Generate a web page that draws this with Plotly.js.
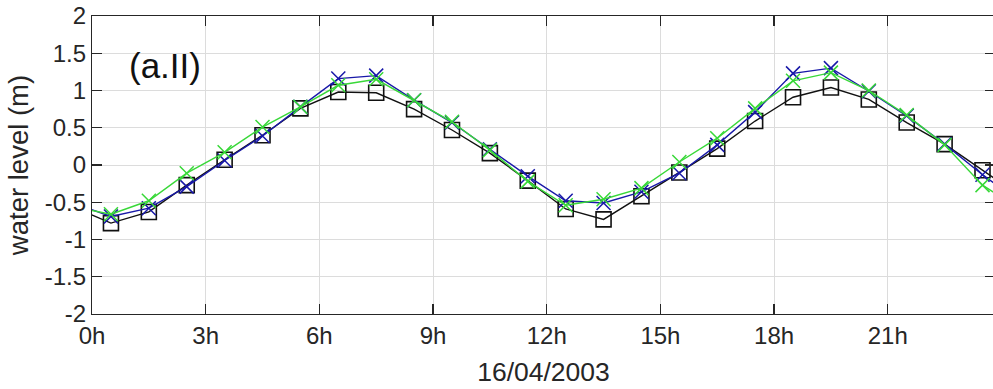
<!DOCTYPE html>
<html>
<head>
<meta charset="utf-8">
<script src="https://cdn.plot.ly/plotly-3.0.1.min.js"></script>
<style>
  html, body { margin: 0; padding: 0; background: #ffffff; overflow: hidden; }
  #chart { width: 1000px; height: 389px; }
</style>
</head>
<body>
<div id="chart"></div>
<script>
// Hourly water level samples (hours after midnight, 16/04/2003)
const hours = [-0.5, 0.5, 1.5, 2.5, 3.5, 4.5, 5.5, 6.5, 7.5, 8.5, 9.5, 10.5, 11.5,
               12.5, 13.5, 14.5, 15.5, 16.5, 17.5, 18.5, 19.5, 20.5, 21.5, 22.5, 23.5, 24.5];

// Observed (black squares)
const observed = [-0.56, -0.78, -0.63, -0.27, 0.07, 0.40, 0.76, 0.98, 0.97, 0.75, 0.47, 0.16, -0.21,
                  -0.59, -0.73, -0.42, -0.10, 0.22, 0.59, 0.91, 1.04, 0.88, 0.57, 0.28, -0.07, -0.42];
// Model run 1 (blue crosses)
const modelBlue = [-0.51, -0.69, -0.58, -0.29, 0.06, 0.39, 0.78, 1.16, 1.20, 0.87, 0.57, 0.21, -0.15,
                   -0.48, -0.51, -0.36, -0.11, 0.27, 0.71, 1.23, 1.30, 0.99, 0.66, 0.28, -0.13, -0.50];
// Model run 2 (green crosses)
const modelGreen = [-0.56, -0.66, -0.48, -0.11, 0.17, 0.51, 0.78, 1.07, 1.15, 0.87, 0.58, 0.20, -0.22,
                    -0.54, -0.46, -0.31, 0.04, 0.36, 0.76, 1.13, 1.24, 1.00, 0.67, 0.27, -0.27, -0.60];

const xTickVals = [0, 3, 6, 9, 12, 15, 18, 21];
const xTickText = ['0h', '3h', '6h', '9h', '12h', '15h', '18h', '21h'];
const yTickVals = [-2, -1.5, -1, -0.5, 0, 0.5, 1, 1.5, 2];
const yTickText = ['-2', '-1.5', '-1', '-0.5', '0', '0.5', '1', '1.5', '2'];

const FONT = '"Liberation Sans", Arial, Helvetica, sans-serif';
const AXIS_COLOR = '#262626';

const traces = [
  {
    x: hours, y: observed, type: 'scatter', mode: 'lines+markers',
    line: { color: '#111111', width: 1.4 },
    marker: { symbol: 'square-open', size: 15, color: '#111111', line: { width: 1.6, color: '#111111' } }
  },
  {
    x: hours, y: modelBlue, type: 'scatter', mode: 'lines+markers',
    line: { color: '#1818a8', width: 1.4 },
    marker: { symbol: 'x-thin-open', size: 14, color: '#1818a8', line: { width: 1.5, color: '#1818a8' } }
  },
  {
    x: hours, y: modelGreen, type: 'scatter', mode: 'lines+markers',
    line: { color: '#38d838', width: 1.4 },
    marker: { symbol: 'x-thin-open', size: 14, color: '#38d838', line: { width: 1.5, color: '#38d838' } }
  }
];

const layout = {
  width: 1000, height: 389,
  margin: { l: 92, r: 5, t: 16, b: 75 },
  paper_bgcolor: '#ffffff', plot_bgcolor: '#ffffff',
  showlegend: false,
  font: { family: FONT, size: 24, color: AXIS_COLOR },
  xaxis: {
    range: [0, 23.83],
    tickvals: xTickVals, ticktext: xTickText,
    ticks: 'inside', ticklen: 10, tickwidth: 1.2, tickcolor: AXIS_COLOR,
    showline: true, linecolor: AXIS_COLOR, linewidth: 1.2, mirror: 'ticks',
    showgrid: true, gridcolor: '#dcdcdc', gridwidth: 1,
    zeroline: false,
    tickfont: { family: FONT, size: 24, color: AXIS_COLOR },
    title: { text: '16/04/2003', font: { family: FONT, size: 26.5, color: AXIS_COLOR }, standoff: 14 }
  },
  yaxis: {
    range: [-2, 2],
    tickvals: yTickVals, ticktext: yTickText,
    ticks: 'inside', ticklen: 10, tickwidth: 1.2, tickcolor: AXIS_COLOR,
    showline: true, linecolor: AXIS_COLOR, linewidth: 1.2, mirror: 'ticks',
    showgrid: true, gridcolor: '#dcdcdc', gridwidth: 1,
    zeroline: false,
    tickfont: { family: FONT, size: 24, color: AXIS_COLOR },
    title: { text: 'water level (m)', font: { family: FONT, size: 27.5, color: AXIS_COLOR }, standoff: 8 }
  },
  annotations: [
    {
      x: 0.92, y: 1.33, xref: 'x', yref: 'y', xanchor: 'left', yanchor: 'middle',
      text: '(a.II)', showarrow: false,
      font: { family: FONT, size: 35, color: '#111111' }
    }
  ]
};

Plotly.newPlot('chart', traces, layout, { displayModeBar: false, staticPlot: true });
</script>
</body>
</html>
